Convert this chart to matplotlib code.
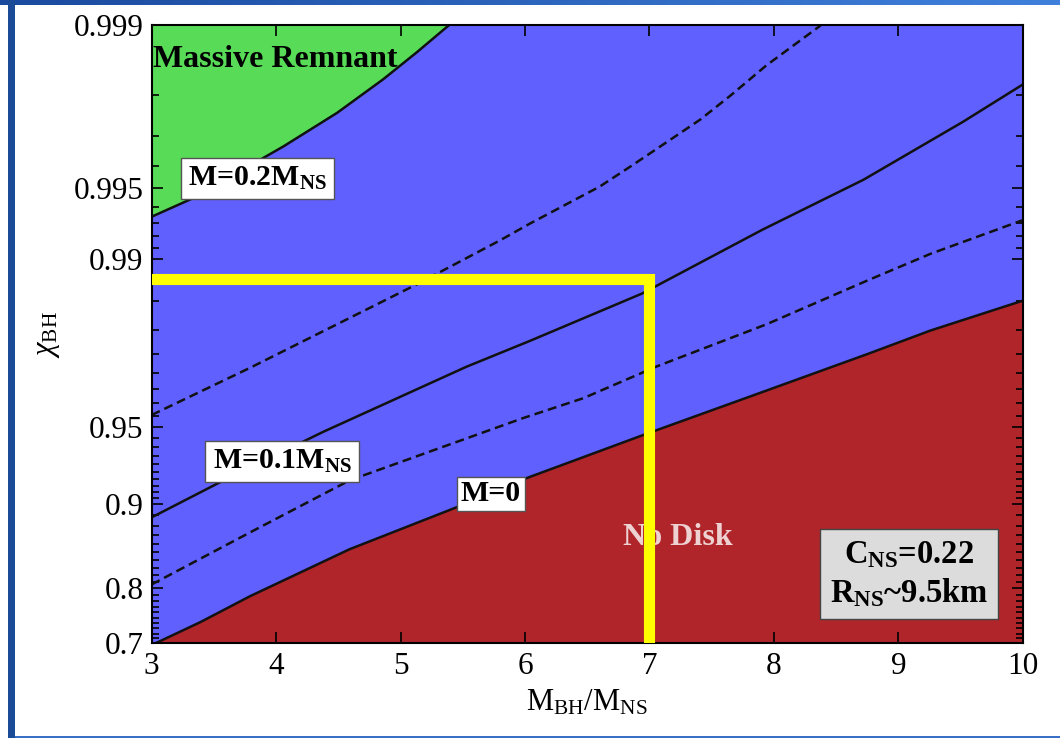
import numpy as np
import matplotlib.pyplot as plt
from matplotlib.colors import LinearSegmentedColormap
from matplotlib.patches import Rectangle

plt.rcParams['font.family'] = ['Liberation Serif', 'DejaVu Serif']
plt.rcParams['mathtext.fontset'] = 'custom'
plt.rcParams['mathtext.rm'] = 'Liberation Serif'
plt.rcParams['mathtext.it'] = 'Liberation Serif:italic'
plt.rcParams['mathtext.bf'] = 'Liberation Serif:bold'

# disk-mass contours in the (M_BH/M_NS, chi_BH) plane
q_m02 = [3.0, 3.33, 4.06, 4.49, 4.86, 5.13, 5.42, 5.47]
chi_m02 = [0.99339, 0.99448, 0.99669, 0.99762, 0.99829, 0.99869, 0.99903, 0.99912]

q_m015 = [3.0, 3.79, 5.13, 5.80, 6.04, 6.60, 6.85, 7.41, 7.65, 7.94, 8.37, 8.43]
chi_m015 = [0.9554, 0.9714, 0.9872, 0.99167, 0.99293, 0.99508, 0.99597,
            0.99746, 0.99799, 0.99851, 0.99899, 0.99908]

q_m01 = [3.0, 3.55, 4.38, 5.53, 6.04, 6.94, 7.91, 8.72, 9.52, 10.0]
chi_m01 = [0.8881, 0.9177, 0.9479, 0.9717, 0.9779, 0.9860, 0.9925, 0.9954, 0.9974, 0.9982]

q_m005 = [3.0, 3.79, 4.59, 5.98, 6.47, 7.06, 7.94, 8.75, 9.26, 10.0]
chi_m005 = [0.806, 0.8728, 0.9190, 0.9540, 0.9619, 0.9718, 0.98115, 0.98766,
            0.9905, 0.99316]

q_m0 = [3.03, 3.39, 3.79, 4.59, 5.45, 6.00, 6.95, 7.81, 8.75, 9.26, 10.0]
chi_m0 = [0.700, 0.742, 0.7875, 0.8537, 0.8974, 0.9202, 0.9463, 0.9625, 0.9749, 0.9800, 0.9850]

# highlighted point
q_mark = 7.0
chi_mark = 0.9878

chi_ticks = [0.7, 0.8, 0.9, 0.95, 0.99, 0.995, 0.999]
chi_tick_labels = ["0.7", "0.8", "0.9", "0.95", "0.99", "0.995", "0.999"]
chi_minor = ([0.70 + 0.01 * i for i in range(1, 10)] + [0.80 + 0.01 * i for i in range(1, 10)]
             + [0.90 + 0.005 * i for i in range(1, 10)] + [0.955, 0.96, 0.965, 0.97, 0.975, 0.98, 0.985]
             + [0.991, 0.992, 0.993, 0.994, 0.996, 0.997, 0.998])

GREEN = "#58dc58"
BLUE = "#6060fe"
RED = "#b0252a"


def spin_fwd(c):
    v = np.clip(1.0 - np.asarray(c, dtype=float), 1e-7, None)
    return -np.log10(v) - 0.6 * v


_v = np.logspace(-7, 0.3, 6000)[::-1]
_grid_chi = 1.0 - _v
_grid_f = spin_fwd(_grid_chi)


def spin_inv(f):
    return np.interp(f, _grid_f, _grid_chi)


fig = plt.figure(figsize=(10.6, 7.38), dpi=100)
ax = fig.add_axes([0.1431, 0.1283, 0.8217, 0.8378])
ax.set_yscale('function', functions=(spin_fwd, spin_inv))
ax.set_xlim(3, 10)
ax.set_ylim(0.7, 0.999)
ax.set_facecolor(BLUE)

ax.fill_between(q_m02, chi_m02, 0.9995, color=GREEN, lw=0, zorder=1)
ax.fill_between(q_m0, 0.6, chi_m0, color=RED, lw=0, zorder=1)

solid = dict(color='#111111', lw=1.8, zorder=2, solid_joinstyle='round')
dashed = dict(color='#111111', lw=1.8, ls=(0, (3.6, 2.0)), zorder=2)
ax.plot(q_m02, chi_m02, **solid)
ax.plot(q_m01, chi_m01, **solid)
ax.plot(q_m0, chi_m0, **solid)
ax.plot(q_m015, chi_m015, **dashed)
ax.plot(q_m005, chi_m005, **dashed)

ax.set_xticks(range(3, 11))
ax.set_yticks(chi_ticks, labels=chi_tick_labels)
ax.set_yticks(chi_minor, minor=True)
ax.tick_params(which='both', direction='in', top=True, right=True, width=1.2)
ax.tick_params(which='major', length=8, labelsize=22.5, pad=6)
ax.tick_params(which='minor', length=5)
ax.tick_params(axis='x', which='minor', bottom=False, top=False)
for sp in ax.spines.values():
    sp.set_linewidth(1.5)

ax.set_xlabel(r"M$_{\rm BH}$/M$_{\rm NS}$", fontsize=22, labelpad=5)
ax.set_ylabel(r"$\chi_{\rm BH}$", fontsize=22, labelpad=8)

box = dict(boxstyle='square,pad=0.24', fc='white', ec='#555555', lw=1)
ax.text(0.002, 0.944, "Massive Remnant", transform=ax.transAxes, fontsize=23,
        fontweight='bold', ha='left', va='center', zorder=4)
ax.text(0.1215, 0.7521, r"M=0.2M$_\mathbf{NS}$", transform=ax.transAxes, fontsize=21.5,
        fontweight='bold', ha='center', va='center', bbox=box, zorder=4)
ax.text(0.1496, 0.2937, r"M=0.1M$_\mathbf{NS}$", transform=ax.transAxes, fontsize=21.5,
        fontweight='bold', ha='center', va='center', bbox=box, zorder=4)
ax.text(0.3896, 0.2418, "M=0", transform=ax.transAxes, fontsize=21.5,
        fontweight='bold', ha='center', va='center',
        bbox=dict(boxstyle='square,pad=0.12', fc='white', ec='#555555', lw=1), zorder=4)
ax.text(0.6037, 0.1711, "No Disk", transform=ax.transAxes, fontsize=23,
        fontweight='bold', color='#eed2d2', ha='center', va='center', zorder=3)
ax.text(0.870, 0.1121, "C$_\\mathbf{NS}$=0.22\nR$_\\mathbf{NS}$~9.5km", transform=ax.transAxes,
        fontsize=23.5, fontweight='bold', ha='center', va='center', linespacing=1.25,
        bbox=dict(boxstyle='square,pad=0.3', fc='#dcdcdc', ec='#444444', lw=1), zorder=4)

ax.plot([3, q_mark, q_mark], [chi_mark, chi_mark, 0.7], color='#ffff00', lw=8,
        solid_joinstyle='miter', solid_capstyle='projecting', zorder=6)

# slide frame
top_bar = fig.add_axes([0, 1 - 5 / 738, 1, 5 / 738])
top_bar.imshow(np.linspace(0, 1, 256)[None, :], aspect='auto',
               cmap=LinearSegmentedColormap.from_list('bar', ['#1a4a9e', '#3f80dc']))
top_bar.axis('off')
fig.patches.append(Rectangle((8 / 1060, 0), 7 / 1060, 1, transform=fig.transFigure,
                             fc='#1b4a96', ec='none'))
fig.patches.append(Rectangle((15 / 1060, 0), 1 - 15 / 1060, 2.5 / 738, transform=fig.transFigure,
                             fc='#3a6fc8', ec='none'))

fig.savefig("out.png", dpi=100)
